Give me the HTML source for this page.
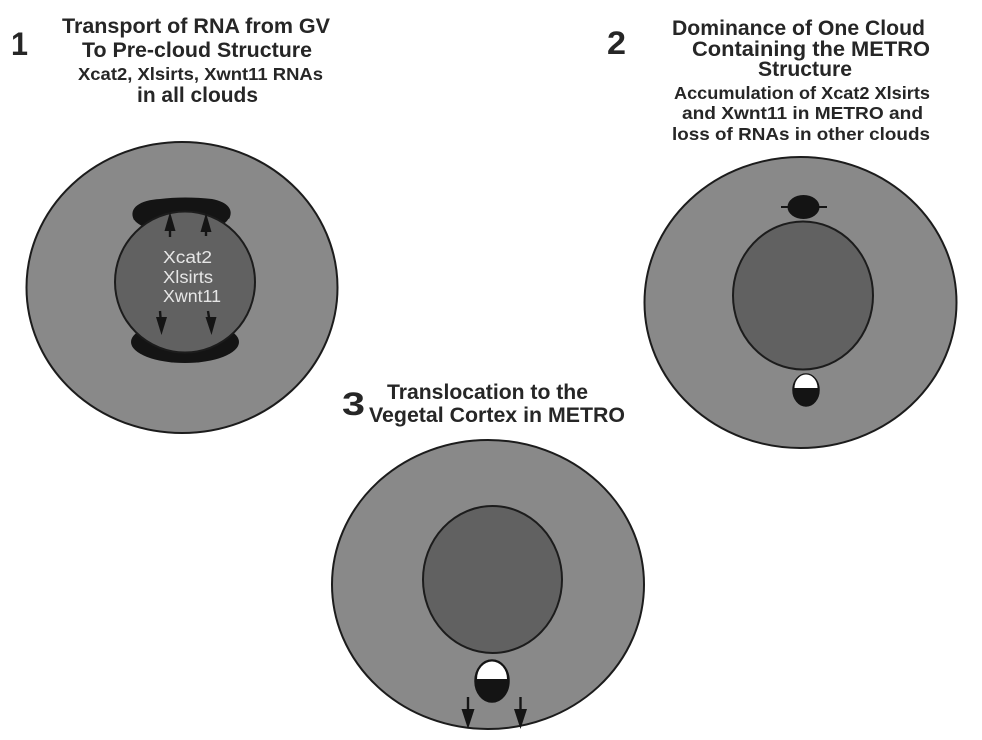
<!DOCTYPE html>
<html>
<head>
<meta charset="utf-8">
<style>
  html, body { margin: 0; padding: 0; background: #ffffff; }
  body { width: 982px; height: 740px; overflow: hidden; }
  svg { display: block; }
  .t { font-family: "Liberation Sans", Arial, sans-serif; font-weight: bold; fill: #262626; }
  .w { font-family: "Liberation Sans", Arial, sans-serif; fill: #e6e6e6; }
</style>
</head>
<body>
<svg width="982" height="740" viewBox="0 0 982 740" xmlns="http://www.w3.org/2000/svg">
  <rect x="0" y="0" width="982" height="740" fill="#ffffff"/>

  <!-- ===== Titles ===== -->
  <text class="t" x="11" y="55" font-size="32" textLength="17" lengthAdjust="spacingAndGlyphs">1</text>
  <text class="t" x="62" y="33" font-size="21" textLength="268" lengthAdjust="spacingAndGlyphs">Transport of RNA from GV</text>
  <text class="t" x="82" y="57" font-size="21" textLength="230" lengthAdjust="spacingAndGlyphs">To Pre-cloud Structure</text>
  <text class="t" x="78" y="80" font-size="17.5" textLength="245" lengthAdjust="spacingAndGlyphs">Xcat2, Xlsirts, Xwnt11 RNAs</text>
  <text class="t" x="137" y="102" font-size="21" textLength="121" lengthAdjust="spacingAndGlyphs">in all clouds</text>

  <text class="t" x="607" y="54" font-size="32" textLength="19" lengthAdjust="spacingAndGlyphs">2</text>
  <text class="t" x="672" y="35" font-size="21" textLength="253" lengthAdjust="spacingAndGlyphs">Dominance of One  Cloud</text>
  <text class="t" x="692" y="56" font-size="21" textLength="238" lengthAdjust="spacingAndGlyphs">Containing the  METRO</text>
  <text class="t" x="758" y="76" font-size="21" textLength="94" lengthAdjust="spacingAndGlyphs">Structure</text>
  <text class="t" x="674" y="99" font-size="17.5" textLength="256" lengthAdjust="spacingAndGlyphs">Accumulation of  Xcat2 Xlsirts</text>
  <text class="t" x="682" y="119" font-size="17.5" textLength="241" lengthAdjust="spacingAndGlyphs">and Xwnt11 in METRO and</text>
  <text class="t" x="672" y="140" font-size="17.5" textLength="258" lengthAdjust="spacingAndGlyphs">loss of RNAs in other clouds</text>

  <text class="t" x="342" y="415" font-size="32" textLength="23" lengthAdjust="spacingAndGlyphs">3</text>
  <text class="t" x="387" y="399" font-size="21" textLength="201" lengthAdjust="spacingAndGlyphs">Translocation to the</text>
  <text class="t" x="369" y="422" font-size="21" textLength="256" lengthAdjust="spacingAndGlyphs">Vegetal Cortex in METRO</text>

  <!-- ===== Cell 1 ===== -->
  <ellipse cx="182" cy="287.5" rx="155.5" ry="145.5" fill="#898989" stroke="#1c1c1c" stroke-width="2"/>
  <!-- black caps (crescents) -->
  <path d="M 134 220 C 128 208 140 200 160 199 C 175 197 195 197 212 199 C 228 202 234 210 229 219 C 215 211 200 209 185 209 C 165 209 148 212 134 220 Z" fill="#141414"/>
  <ellipse cx="181" cy="216" rx="48" ry="17" fill="#141414"/>
  <ellipse cx="185" cy="342" rx="54" ry="21" fill="#141414"/>
  <!-- nucleus -->
  <ellipse cx="185" cy="282" rx="70" ry="70.5" fill="#616161" stroke="#1c1c1c" stroke-width="2"/>
  <!-- arrows up -->
  <line x1="170" y1="237" x2="170" y2="224" stroke="#151515" stroke-width="2.4"/>
  <polygon points="170,212 164.5,231 175.5,231" fill="#151515"/>
  <line x1="206" y1="236" x2="206" y2="225" stroke="#151515" stroke-width="2.4"/>
  <polygon points="206,213 200.5,232 211.5,232" fill="#151515"/>
  <!-- arrows down -->
  <line x1="160" y1="311" x2="161" y2="324" stroke="#151515" stroke-width="2.4"/>
  <polygon points="161.5,335 156,317 167,317" fill="#151515"/>
  <line x1="208" y1="311" x2="210" y2="324" stroke="#151515" stroke-width="2.4"/>
  <polygon points="211.5,335 205.5,317 216.5,317" fill="#151515"/>
  <!-- labels -->
  <text class="w" x="163" y="263" font-size="17.5" textLength="49" lengthAdjust="spacingAndGlyphs">Xcat2</text>
  <text class="w" x="163" y="283" font-size="17.5" textLength="50" lengthAdjust="spacingAndGlyphs">Xlsirts</text>
  <text class="w" x="163" y="302" font-size="17.5" textLength="58" lengthAdjust="spacingAndGlyphs">Xwnt11</text>

  <!-- ===== Cell 2 ===== -->
  <ellipse cx="800.5" cy="302.5" rx="156" ry="145.5" fill="#898989" stroke="#1c1c1c" stroke-width="2"/>
  <ellipse cx="803" cy="295.5" rx="70" ry="74" fill="#616161" stroke="#1c1c1c" stroke-width="2"/>
  <line x1="781" y1="207" x2="827" y2="207" stroke="#141414" stroke-width="2"/>
  <ellipse cx="803.5" cy="207" rx="16" ry="12" fill="#141414"/>
  <ellipse cx="806" cy="390" rx="13" ry="16" fill="#141414" stroke="#141414" stroke-width="1.5"/>
  <path d="M 794.5 388 A 11.5 13.5 0 0 1 817.5 388 Z" fill="#ffffff"/>

  <!-- ===== Cell 3 ===== -->
  <ellipse cx="488" cy="584.5" rx="156" ry="144.5" fill="#898989" stroke="#1c1c1c" stroke-width="2"/>
  <ellipse cx="492.5" cy="579.5" rx="69.5" ry="73.5" fill="#616161" stroke="#1c1c1c" stroke-width="2"/>
  <ellipse cx="492" cy="681" rx="17" ry="21" fill="#141414" stroke="#141414" stroke-width="1.5"/>
  <path d="M 477 679 A 15 17.5 0 0 1 507 679 Z" fill="#ffffff"/>
  <line x1="468" y1="697" x2="468" y2="714" stroke="#151515" stroke-width="2.4"/>
  <polygon points="468,729 461.5,709 474.5,709" fill="#151515"/>
  <line x1="520.5" y1="697" x2="520.5" y2="714" stroke="#151515" stroke-width="2.4"/>
  <polygon points="520.5,729 514,709 527,709" fill="#151515"/>
</svg>
</body>
</html>
